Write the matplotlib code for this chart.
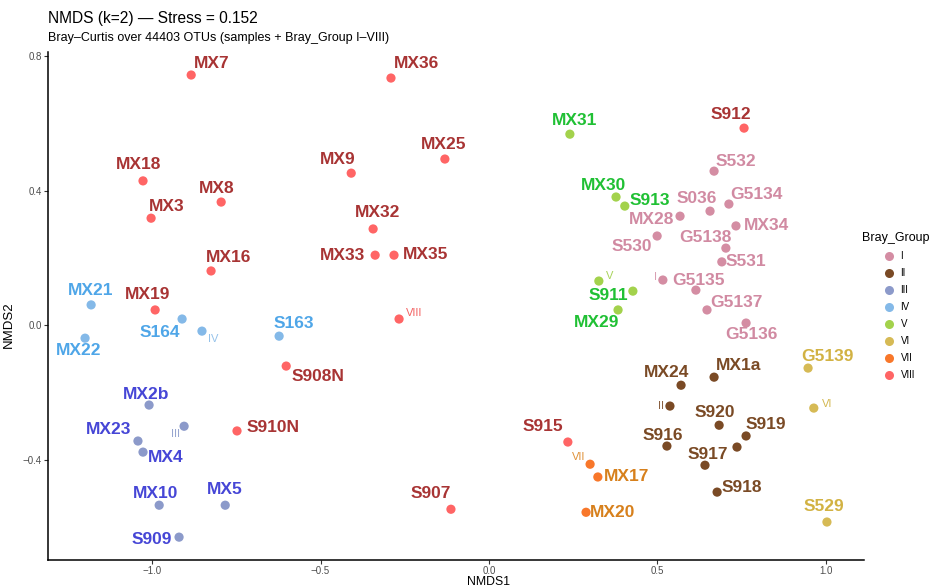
"""
NMDS ordination of samples (Bray-Curtis), coloured by Bray_Group,
with group centroids marked I-VIII.
"""

import matplotlib
matplotlib.use("Agg")
import matplotlib.pyplot as plt
from matplotlib.lines import Line2D

plt.rcParams['font.family'] = ['Liberation Sans', 'DejaVu Sans']

# sample scores
samples = ['MX7', 'MX36', 'MX18', 'MX3', 'MX8', 'MX9', 'MX25', 'MX32', 'MX33', 'MX35',
           'MX16', 'MX19', 'S908N', 'S910N', 'S907', 'S915', 'S912',
           'MX21', 'MX22', 'S164', 'S163',
           'MX2b', 'MX23', 'MX4', 'MX10', 'MX5', 'S909',
           'MX31', 'MX30', 'S913', 'S911', 'MX29',
           'S532', 'G5134', 'S036', 'MX28', 'MX34', 'S530', 'G5138', 'S531',
           'G5135', 'G5137', 'G5136',
           'MX1a', 'MX24', 'S920', 'S919', '', 'S916', 'S917', 'S918',
           'G5139', 'S529',
           'MX17', 'MX20']
nmds1 = [-0.884, -0.291, -1.027, -1.003, -0.795, -0.409, -0.131, -0.344, -0.338, -0.282,
         -0.825, -0.991, -0.602, -0.748, -0.113, 0.234, 0.757,
         -1.181, -1.199, -0.911, -0.623,
         -1.009, -1.042, -1.027, -0.979, -0.783, -0.920,
         0.240, 0.377, 0.403, 0.427, 0.383,
         0.668, 0.712, 0.656, 0.567, 0.733, 0.499, 0.703, 0.691,
         0.614, 0.647, 0.763,
         0.668, 0.570, 0.683, 0.763, 0.736, 0.528, 0.641, 0.677,
         0.947, 1.003,
         0.323, 0.288]
nmds2 = [0.744, 0.735, 0.429, 0.318, 0.366, 0.452, 0.494, 0.286, 0.208, 0.208,
         0.161, 0.045, -0.122, -0.315, -0.548, -0.348, 0.586,
         0.060, -0.039, 0.018, -0.033,
         -0.238, -0.345, -0.378, -0.536, -0.536, -0.631,
         0.568, 0.381, 0.354, 0.101, 0.045,
         0.458, 0.360, 0.339, 0.324, 0.295, 0.265, 0.229, 0.188,
         0.104, 0.045, 0.006,
         -0.155, -0.179, -0.298, -0.330, -0.363, -0.360, -0.417, -0.497,
         -0.128, -0.586,
         -0.452, -0.557]
group = ['VIII'] * 17 + ['IV'] * 4 + ['III'] * 6 + ['V'] * 5 + ['I'] * 11 + \
        ['II'] * 8 + ['VI'] * 2 + ['VII'] * 2

# group centroids
groups = ['I', 'II', 'III', 'IV', 'V', 'VI', 'VII', 'VIII']
cent1 = [0.516, 0.537, -0.905, -0.852, 0.326, 0.964, 0.300, -0.267]
cent2 = [0.134, -0.241, -0.301, -0.018, 0.131, -0.247, -0.414, 0.018]

point_col = {'I': '#D48DA3', 'II': '#7A4A25', 'III': '#8C9ACA', 'IV': '#84B9E8',
             'V': '#A3D24C', 'VI': '#D6BA55', 'VII': '#F8772A', 'VIII': '#FF6565'}
label_col = {'I': '#D18AA2', 'II': '#7A4A25', 'III': '#4646D6', 'IV': '#4FA6E8',
             'V': '#20C034', 'VI': '#D2B243', 'VII': '#D7801C', 'VIII': '#A83434'}
cent_col = {'I': '#D9A0B3', 'II': '#8A6040', 'III': '#98A6D0', 'IV': '#95C2EA',
            'V': '#A8D35A', 'VI': '#D3B851', 'VII': '#E0923A', 'VIII': '#F36464'}

# label offsets in pixels (dx right, dy down), repel-style placement
label_off = {
    'MX7': (21, -12), 'MX36': (26, -15), 'MX18': (-4, -16), 'MX3': (16, -12),
    'MX8': (-4, -14), 'MX9': (-14, -14), 'MX25': (-1, -15), 'MX32': (4, -16),
    'MX33': (-33, 0), 'MX35': (32, -1), 'MX16': (17, -13), 'MX19': (-8, -15),
    'S908N': (32, 10), 'S910N': (36, -3), 'S907': (-20, -16), 'S915': (-25, -16),
    'S912': (-13, -14),
    'MX21': (0, -14), 'MX22': (-6, 12), 'S164': (-22, 13), 'S163': (15, -13),
    'MX2b': (-3, -11), 'MX23': (-29, -12), 'MX4': (23, 5), 'MX10': (-4, -12),
    'MX5': (0, -16), 'S909': (-27, 2),
    'MX31': (5, -14), 'MX30': (-13, -12), 'S913': (25, -6), 'S911': (-25, 4),
    'MX29': (-21, 13),
    'S532': (22, -10), 'G5134': (28, -10), 'S036': (-13, -13), 'MX28': (-28, 3),
    'MX34': (31, 0), 'S530': (-25, 10), 'G5138': (-20, -11), 'S531': (24, 0),
    'G5135': (3, -10), 'G5137': (29, -7), 'G5136': (5, 11),
    'MX1a': (24, -12), 'MX24': (-14, -13), 'S920': (-4, -13), 'S919': (20, -11),
    'S916': (-4, -11), 'S917': (3, -11), 'S918': (25, -5),
    'G5139': (19, -12), 'S529': (-3, -16),
    'MX17': (29, 0), 'MX20': (27, 0),
}
cent_off = {'I': (-7, -3), 'II': (-9, 0), 'III': (-9, 8), 'IV': (11, 8),
            'V': (11, -5), 'VI': (13, -4), 'VII': (-11, -7), 'VIII': (15, -6)}


def fmt_tick(v, pos):
    s = f'{v:.1f}'
    return s.replace('-', '\u2212') if v < 0 else s


fig = plt.figure(figsize=(9.5, 5.87), dpi=100)
ax = fig.add_axes([48 / 950, 1 - 560 / 587, (864 - 48) / 950, (560 - 52) / 587])

ax.scatter(nmds1, nmds2, s=44, c=[point_col[g] for g in group],
           linewidths=0, zorder=3)
ax.scatter(cent1, cent2, s=44, c=[point_col[g] for g in groups],
           linewidths=0, zorder=3)

for name, x, y, g in zip(samples, nmds1, nmds2, group):
    if not name:
        continue
    dx, dy = label_off[name]
    ax.annotate(name, (x, y), xytext=(dx, -dy), textcoords='offset pixels',
                ha='center', va='center', fontsize=12.5, fontweight='bold',
                color=label_col[g], zorder=4)

for g, x, y in zip(groups, cent1, cent2):
    dx, dy = cent_off[g]
    ax.annotate(g, (x, y), xytext=(dx, -dy), textcoords='offset pixels',
                ha='center', va='center', fontsize=8, color=cent_col[g], zorder=4)

ax.set_xlim(-1.309, 1.113)
ax.set_ylim(-0.699, 0.8125)
ax.set_xticks([-1.0, -0.5, 0.0, 0.5, 1.0])
ax.set_yticks([-0.4, 0.0, 0.4, 0.8])
ax.xaxis.set_major_formatter(plt.FuncFormatter(fmt_tick))
ax.yaxis.set_major_formatter(plt.FuncFormatter(fmt_tick))
ax.tick_params(labelsize=7, colors='#333333', labelcolor='#4D4D4D',
               length=3, width=0.8, pad=1.5)
for side in ['top', 'right']:
    ax.spines[side].set_visible(False)
for side in ['left', 'bottom']:
    ax.spines[side].set_linewidth(1.1)
ax.set_xlabel('NMDS1', fontsize=8.8)
ax.set_ylabel('NMDS2', fontsize=9.5)
ax.xaxis.set_label_coords((489 - 48) / 816, (560 - 576) / 508)
ax.yaxis.set_label_coords((15 - 48) / 816, (560 - 325) / 508)

fig.text(48 / 950, 1 - 18 / 587, 'NMDS (k=2) \u2014 Stress = 0.152',
         fontsize=11.2, va='center', ha='left')
fig.text(48 / 950, 1 - 38 / 587,
         'Bray\u2013Curtis over 44403 OTUs (samples + Bray_Group I\u2013VIII)',
         fontsize=9, va='center', ha='left')

# legend: title placed on its own so the keys can sit indented beneath it
fig.text(862 / 950, 1 - 238 / 587, 'Bray_Group', fontsize=9,
         va='center', ha='left')
handles = [Line2D([], [], marker='o', linestyle='', markersize=6.5,
                  markerfacecolor=point_col[g], markeredgewidth=0)
           for g in groups]
fig.legend(handles, groups, loc='upper left',
           bbox_to_anchor=(882 / 950, 1 - 251 / 587), frameon=False,
           fontsize=7, labelspacing=0.72, handletextpad=0.5,
           handlelength=1.4, borderaxespad=0, borderpad=0)

fig.savefig('out.png', dpi=100)
